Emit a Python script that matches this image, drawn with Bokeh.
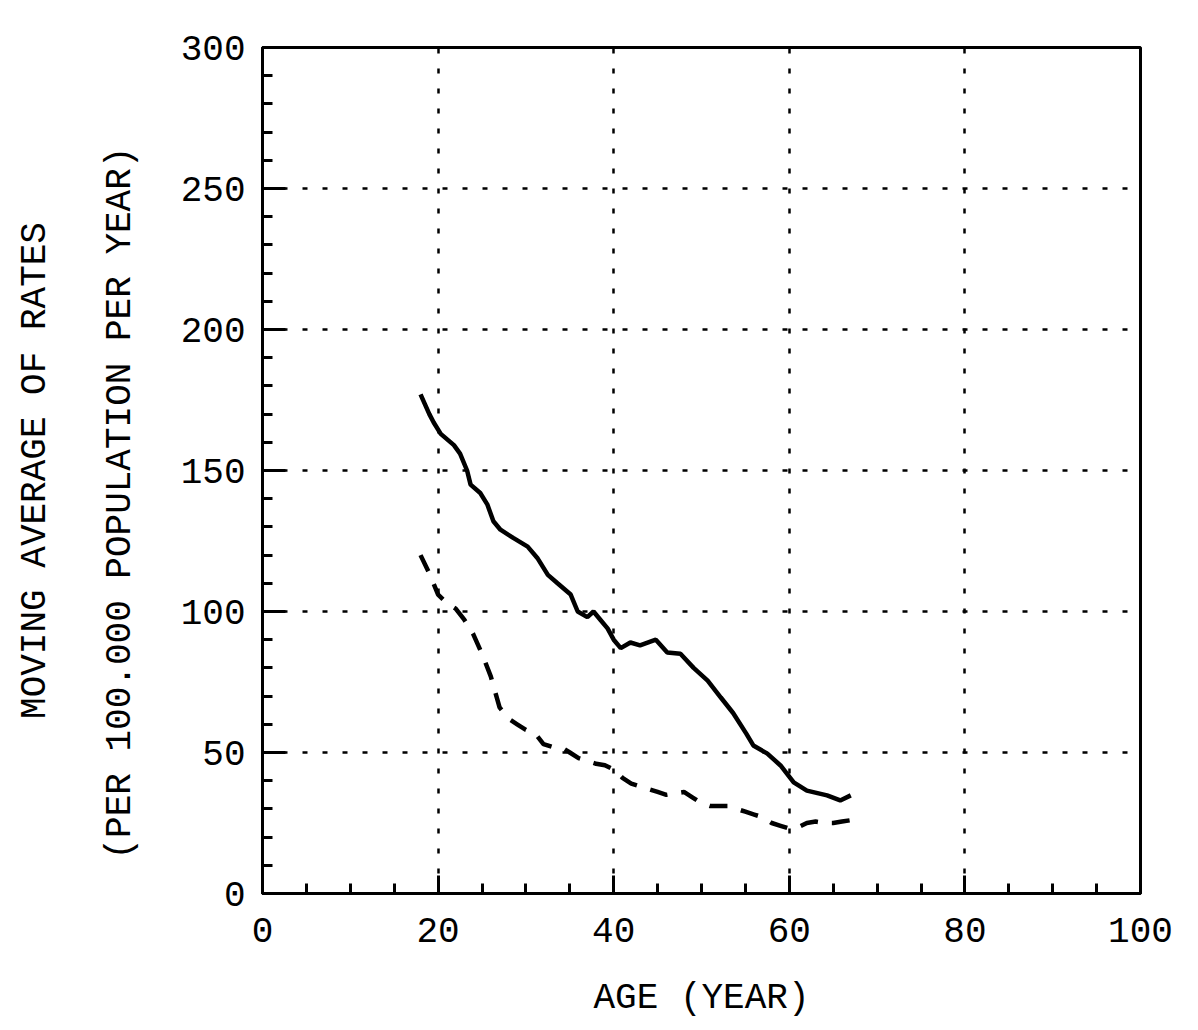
from bokeh.plotting import figure
from bokeh.models import Range1d, Title, FixedTicker
from bokeh.embed import file_html
from bokeh.resources import INLINE

# ---- data ----
solid_age = [18, 19, 19.5, 20.3, 21.8, 22.5, 23.3, 23.7, 24.8, 25.6, 26.3, 27.1, 28.6,
             30.2, 31.3, 32.5, 33.6, 35.1, 35.9, 37, 37.7, 38.5, 39.3, 40, 40.8, 41.9,
             43, 44.8, 46.1, 47.6, 49.1, 50.7, 52.2, 53.6, 55.1, 55.9, 57.5, 59, 60.5,
             62, 64.3, 65.8, 67]
solid_rate = [177, 170, 167, 163, 159, 156, 150, 145, 142, 138, 132, 129, 126,
              123, 119, 113, 110, 106, 100, 98, 100, 97, 94, 90, 87, 89,
              88, 90, 85.5, 85, 80, 75.5, 69.5, 64, 56.7, 52.5, 49.6, 45.4, 39.4,
              36.5, 34.8, 33, 34.8]

dashed_age = [18, 19, 20, 21, 22, 23, 24, 25, 26, 27, 28, 29, 30, 31, 32, 33, 34, 35,
              36, 37, 38, 39, 40, 41, 42, 43, 44, 45, 46, 47, 48, 49, 50, 51, 52, 53,
              54, 55, 56, 57, 58, 59, 60, 61, 62, 63, 64, 65, 66, 67]
dashed_rate = [120, 113.5, 106, 103, 101, 97, 92, 85, 77, 66, 62, 60, 58, 57, 53, 52,
               52, 50, 48, 47, 46, 45.5, 44, 41, 39, 38, 37, 36, 35, 35.5, 36, 34, 32,
               31, 31, 31, 30, 29, 28, 27, 25, 24, 23, 23.5, 25, 25.5, 25, 25, 25.5, 26]

x_ticks = [0, 20, 40, 60, 80, 100]
y_ticks = [0, 50, 100, 150, 200, 250, 300]
x_title = "AGE (YEAR)"
y_title_1 = "MOVING AVERAGE OF RATES"
y_title_2 = "(PER 100.000 POPULATION PER YEAR)"

FONT = "Liberation Mono"
FS = "36px"

p = figure(width=1188, height=1028,
           x_range=Range1d(0, 100), y_range=Range1d(0, 300),
           output_backend="svg", toolbar_location=None,
           min_border_left=262, min_border_right=48,
           min_border_top=47, min_border_bottom=135)

p.background_fill_color = "white"
p.border_fill_color = "white"
p.outline_line_color = "black"
p.outline_line_width = 3

p.xaxis.ticker = FixedTicker(ticks=x_ticks, minor_ticks=list(range(0, 101, 5)))
p.yaxis.ticker = FixedTicker(ticks=y_ticks, minor_ticks=list(range(0, 301, 10)))

for ax in (p.xaxis[0], p.yaxis[0]):
    ax.axis_line_width = 3
    ax.axis_line_color = "black"
    ax.major_tick_line_width = 3
    ax.minor_tick_line_width = 3
    ax.major_tick_line_color = "black"
    ax.minor_tick_line_color = "black"
    ax.major_tick_out = 0
    ax.minor_tick_out = 0
    ax.minor_tick_in = 10
    ax.major_label_text_font = FONT
    ax.major_label_text_font_size = FS
    ax.major_label_text_color = "black"
    ax.axis_label_text_font = FONT
    ax.axis_label_text_font_size = FS
    ax.axis_label_text_font_style = "normal"
    ax.axis_label_text_color = "black"

p.xaxis.major_tick_in = 18
p.yaxis.major_tick_in = 23
p.xaxis.major_label_standoff = 24
p.yaxis.major_label_standoff = 17
p.xaxis.axis_label = x_title
p.xaxis.axis_label_standoff = 33

for g in (p.xgrid[0], p.ygrid[0]):
    g.grid_line_color = "black"
    g.grid_line_width = 2.5
    g.grid_line_dash = "5 15"

p.line(solid_age, solid_rate, line_color="black", line_width=4.5)
p.line(dashed_age, dashed_rate, line_color="black", line_width=4.5, line_dash="18 14")

# y-axis title: two lines, inner line added first (closest to the axis)
p.add_layout(Title(text=y_title_2, align="left", offset=34, vertical_align="top",
                   text_font=FONT, text_font_size=FS, text_font_style="normal",
                   text_color="black", standoff=70), "left")
p.add_layout(Title(text=y_title_1, align="center", vertical_align="top",
                   text_font=FONT, text_font_size=FS, text_font_style="normal",
                   text_color="black", standoff=14), "left")

open("out.html", "w").write(file_html(p, INLINE))
